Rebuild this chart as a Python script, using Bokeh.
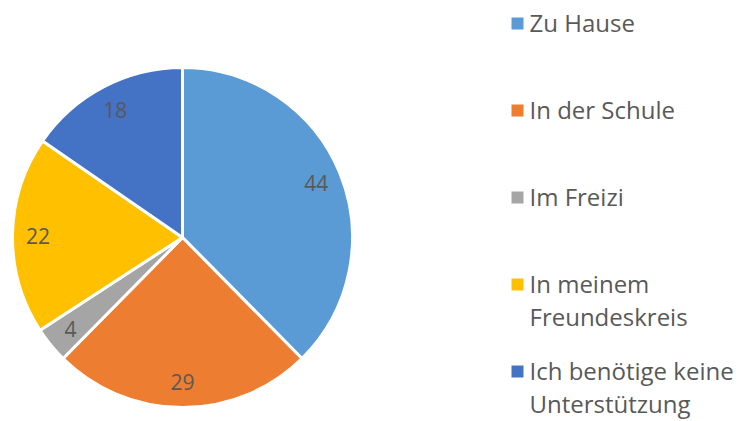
import math
from bokeh.plotting import figure
from bokeh.models import Range1d, ColumnDataSource
from bokeh.core.properties import value
from bokeh.embed import file_html
from bokeh.resources import INLINE

categories = ["Zu Hause", "In der Schule", "Im Freizi", "In meinem\nFreundeskreis", "Ich benötige keine\nUnterstützung"]
values = [44, 29, 4, 22, 18]
colors = ["#5B9BD5", "#ED7D31", "#A5A5A5", "#FFC000", "#4472C4"]

W, H = 755, 421
def Y(py):
    return H - py
def X(px):
    return px

p = figure(width=W, height=H, output_backend="svg", toolbar_location=None,
           x_range=Range1d(0, W), y_range=Range1d(0, H), min_border=0)
p.axis.visible = False
p.grid.visible = False
p.outline_line_color = None

cx, cy, r = X(182), Y(237), 170
total = sum(values)
starts, ends, lx, ly = [], [], [], []
cum = 0
for v in values:
    a0 = math.pi / 2 - 2 * math.pi * cum / total
    a1 = math.pi / 2 - 2 * math.pi * (cum + v) / total
    starts.append(a1)
    ends.append(a0)
    mid = (a0 + a1) / 2
    lx.append(cx + 0.85 * r * math.cos(mid))
    ly.append(cy + 0.85 * r * math.sin(mid))
    cum += v

src = ColumnDataSource(dict(start=starts, end=ends, color=colors, lx=lx, ly=ly,
                            lab=[str(v) for v in values]))
p.wedge(x=cx, y=cy, radius=r, start_angle="start", end_angle="end", direction="anticlock",
        fill_color="color", line_color="white", line_width=3, source=src)
p.text(x="lx", y="ly", text="lab", source=src, text_font=value("Open Sans"),
       text_font_size="21px", text_color="#595959", text_align="center", text_baseline="middle")

# legend
sq_x, sq_y, sq_c = [], [], []
tx, ty, tt = [], [], []
for i, (cat, col) in enumerate(zip(categories, colors)):
    base = 32 + 87 * i
    sq_x.append(X(517)); sq_y.append(Y(base - 9)); sq_c.append(col)
    for j, line in enumerate(cat.split("\n")):
        tx.append(X(529)); ty.append(Y(base - 10 + 33 * j)); tt.append(line)

p.rect(x=sq_x, y=sq_y, width=12, height=12, fill_color=sq_c, line_color=None)
p.text(x=tx, y=ty, text=tt, text_font=value("Open Sans"), text_font_size="24px",
       text_color="#595959", text_align="left", text_baseline="alphabetic")

open("out.html", "w").write(file_html(p, INLINE))
